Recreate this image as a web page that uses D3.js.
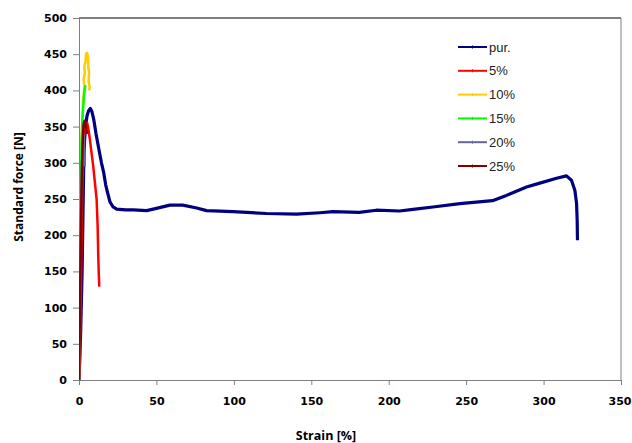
<!DOCTYPE html>
<html>
<head>
<meta charset="utf-8">
<script src="https://cdn.jsdelivr.net/npm/d3@7"></script>
<style>
  body { margin: 0; background: #fff; }
  svg { display: block; }
</style>
</head>
<body>
<svg id="chart"></svg>
<script>
// series: [strain %, force N]
const seriesNames = ["pur.", "5%", "10%", "15%", "20%", "25%"];
const seriesColors = ["#000080", "#ff0000", "#ffcc00", "#00ff00", "#666699", "#800000"];

const pur = [[0,0],[1,60],[2,150],[2.5,220],[3,290],[3.6,332],[4.5,355],[5.2,365],[6.2,372],[7.3,375],[8.3,371],[9.5,360],[11,340],[12.9,318],[14.5,300],[16,286],[17.2,270],[18.3,260],[20,246],[22,239],[24.3,236],[30,235],[35,235],[43.7,234],[50,237],[58.7,241.5],[67,241.5],[76,237.5],[82.4,234],[99.5,232.5],[121,230],[140.5,229],[155.6,231],[164,232.5],[181,231.5],[192,234.5],[207,233.4],[215.7,235.7],[228.6,239],[246,243.5],[267,247.7],[276,255],[289,266.5],[297,271.6],[308.4,278.6],[314.8,282],[318,276],[320.2,262],[321.3,244],[321.7,221],[321.9,193]];
const pct5 = [[0,0],[0.5,20],[1,90],[1.5,170],[2,240],[2.6,300],[3.3,335],[4.2,350],[5.3,355],[6.2,345],[7.1,331],[8.2,312],[9.2,295],[10.3,272],[11.4,249],[12,215],[12.5,166],[12.8,145],[13.1,129]];
const pct10 = [[0,0],[0.3,60],[0.8,150],[1.2,250],[1.7,330],[2.3,370],[3.1,395],[3.6,405],[3.0,415],[3.8,425],[3.4,432],[4.2,440],[4.6,450],[5.2,452],[5.8,446],[6.0,432],[6.5,425],[6.2,412],[6.9,405],[6.6,400]];
const pct15 = [[0,50],[0.4,120],[0.8,200],[1.2,270],[1.7,330],[2.2,360],[2.8,380],[3.3,395],[3.8,403],[4.2,407]];
const pct20 = [[0,0],[0.5,100],[1,200],[1.5,260],[2,300],[2.5,328],[3,338],[3.4,320],[3.7,295]];
const pct25 = [[0,0],[0.5,80],[1,160],[1.5,240],[2,300],[2.5,338],[3,354],[3.6,358],[4.5,350],[5.2,340]];
const allSeries = [pur, pct5, pct10, pct15, pct20, pct25];

const xTicks = [0, 50, 100, 150, 200, 250, 300, 350];
const yTicks = [0, 50, 100, 150, 200, 250, 300, 350, 400, 450, 500];

const W = 632, H = 443;
const pLeft = 79, pRight = 621, pTop = 18, pBottom = 380;

const svg = d3.select("#chart").attr("width", W).attr("height", H);

const x = d3.scaleLinear().domain([0, 350]).range([pLeft, pRight]);
const y = d3.scaleLinear().domain([0, 500]).range([pBottom, pTop]);

// frame: top and right
svg.append("line").attr("x1", pLeft).attr("x2", pRight).attr("y1", pTop).attr("y2", pTop)
  .attr("stroke", "#000").attr("stroke-width", 1);
svg.append("line").attr("x1", pRight).attr("x2", pRight).attr("y1", pTop).attr("y2", pBottom)
  .attr("stroke", "#808080").attr("stroke-width", 1);

// axes
const xAxis = svg.append("g")
  .attr("transform", `translate(0,${pBottom})`)
  .call(d3.axisBottom(x).tickValues(xTicks).tickSize(5).tickPadding(12).tickSizeOuter(0));
const yAxis = svg.append("g")
  .attr("transform", `translate(${pLeft},0)`)
  .call(d3.axisLeft(y).tickValues(yTicks).tickSize(6).tickPadding(6).tickSizeOuter(0));

[xAxis, yAxis].forEach(g => {
  g.select(".domain").attr("stroke", "#808080");
  g.selectAll(".tick line").attr("stroke", "#808080");
  g.selectAll(".tick text")
    .attr("fill", "#000")
    .style("font-family", "'DejaVu Sans', Verdana, sans-serif")
    .style("font-weight", "bold")
    .style("font-size", "11px");
});
// last x label sits at the window edge; nudge it in
xAxis.selectAll(".tick text").filter(d => d === 350).attr("text-anchor", "end").attr("dx", "10px");

// axis titles
svg.append("text")
  .attr("x", 326).attr("y", 440)
  .attr("text-anchor", "middle")
  .style("font-family", "'Open Sans', sans-serif")
  .style("font-weight", "bold")
  .style("font-size", "12.5px")
  .text("Strain [%]");

svg.append("text")
  .attr("transform", "translate(23,187) rotate(-90)")
  .attr("text-anchor", "middle")
  .style("font-family", "'Open Sans', sans-serif")
  .style("font-weight", "bold")
  .style("font-size", "12px")
  .text("Standard force [N]");

// clip
svg.append("clipPath").attr("id", "plotClip")
  .append("rect").attr("x", pLeft).attr("y", pTop - 2).attr("width", pRight - pLeft).attr("height", pBottom - pTop + 2);

const line = d3.line().x(d => x(d[0])).y(d => y(d[1]));

const lines = svg.append("g").attr("clip-path", "url(#plotClip)");
allSeries.forEach((s, i) => {
  lines.append("path")
    .datum(s)
    .attr("d", line)
    .attr("fill", "none")
    .attr("stroke", seriesColors[i])
    .attr("stroke-width", i === 0 ? 3.2 : 2.5)
    .attr("stroke-linejoin", "round");
});

// legend
const legend = svg.append("g").attr("transform", "translate(458,47)");
seriesNames.forEach((name, i) => {
  const row = legend.append("g").attr("transform", `translate(0,${i * 23.8})`);
  row.append("line").attr("x1", 0).attr("x2", 29).attr("y1", 0).attr("y2", 0)
    .attr("stroke", seriesColors[i]).attr("stroke-width", 2);
  row.append("line").attr("x1", 14.5).attr("x2", 14.5).attr("y1", -1.5).attr("y2", 1.5)
    .attr("stroke", seriesColors[i]).attr("stroke-width", 1);
  row.append("text")
    .attr("x", 31).attr("y", 0).attr("dy", "0.35em")
    .attr("fill", "#222")
    .style("font-family", "'Liberation Sans', Arial, sans-serif")
    .style("font-size", "13px")
    .text(name);
});
</script>
</body>
</html>
